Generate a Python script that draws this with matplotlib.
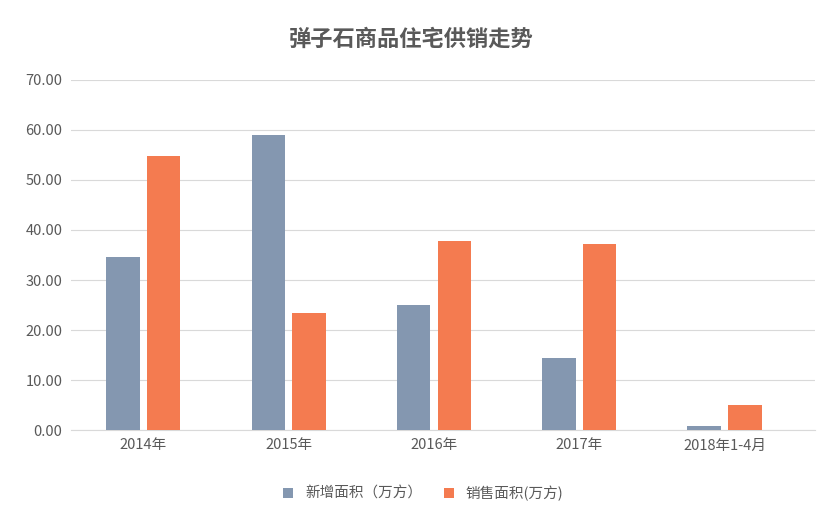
import matplotlib
matplotlib.use("Agg")
import matplotlib.pyplot as plt
import numpy as np

plt.rcParams['font.family'] = ['Noto Sans CJK SC', 'DejaVu Sans']

categories = ["2014年", "2015年", "2016年", "2017年", "2018年1-4月"]
new_area = [34.6, 59.0, 25.0, 14.4, 0.8]
sold_area = [54.8, 23.5, 37.8, 37.2, 5.0]
yticks = [0, 10, 20, 30, 40, 50, 60, 70]

fig = plt.figure(figsize=(8.22, 5.22), dpi=100)
ax = fig.add_axes([0.086, 0.176, 0.905, 0.671])
x = np.arange(len(categories))
w = 0.23
ax.bar(x - 0.14, new_area, w, color="#8497B0", label="新增面积（万方）", zorder=3)
ax.bar(x + 0.14, sold_area, w, color="#F47B50", label="销售面积(万方)", zorder=3)
ax.set_xlim(-0.5, 4.62)
ax.set_ylim(0, 70)
ax.set_yticks(yticks)
ax.set_yticklabels([f"{v:.2f}" for v in yticks], fontsize=10.5, color="#595959")
ax.set_xticks(x)
ax.set_xticklabels(categories, fontsize=10.5, color="#595959")
ax.yaxis.grid(True, color="#D9D9D9", linewidth=0.8, zorder=0)
for s in ["top", "right", "left"]:
    ax.spines[s].set_visible(False)
ax.spines["bottom"].set_color("#D9D9D9")
ax.tick_params(length=0, pad=6)
fig.text(0.5, 0.925, "弹子石商品住宅供销走势", ha="center", va="center",
         fontsize=16, fontweight="bold", color="#595959")
fig.legend(loc="center", bbox_to_anchor=(0.515, 0.055), ncol=2, frameon=False,
           fontsize=10.5, handlelength=0.7, handleheight=0.7, columnspacing=1.5,
           labelcolor="#595959")
fig.savefig("out.png", dpi=100)
